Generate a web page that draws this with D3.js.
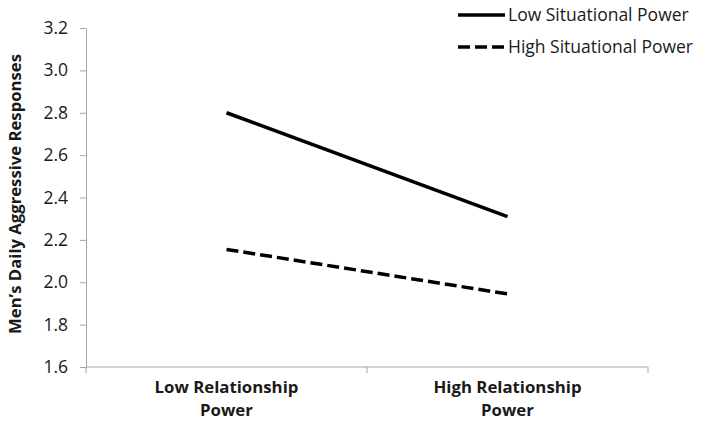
<!DOCTYPE html>
<html>
<head>
<meta charset="utf-8">
<script src="https://cdn.jsdelivr.net/npm/d3@7"></script>
<style>
  body { margin: 0; background: #fff; }
  text { font-family: "Open Sans", "Noto Sans", sans-serif; }
</style>
</head>
<body>
<script>
// categories and series values
var categories = ["Low Relationship|Power", "High Relationship|Power"];
var series_names = ["Low Situational Power", "High Situational Power"];
var low_situational = [2.80, 2.31];
var high_situational = [2.155, 1.945];
var y_ticks = [1.6, 1.8, 2.0, 2.2, 2.4, 2.6, 2.8, 3.0, 3.2];

var w = 704, h = 425;
var plot_left = 86, plot_right = 648, plot_top = 28, plot_bottom = 367;

var svg = d3.select("body").append("svg")
    .attr("width", w).attr("height", h);

var x = d3.scaleBand().domain(categories).range([plot_left, plot_right]);
var y = d3.scaleLinear().domain([1.6, 3.2]).range([plot_bottom, plot_top]);

// y axis
var yAxis = svg.append("g")
    .attr("transform", "translate(" + plot_left + ",0)")
    .call(d3.axisLeft(y).tickValues(y_ticks).tickFormat(d3.format(".1f")).tickSize(6).tickPadding(12).tickSizeOuter(0));
yAxis.select(".domain").attr("stroke", "#a6a6a6");
yAxis.selectAll(".tick line").attr("stroke", "#a6a6a6");
yAxis.selectAll(".tick text").attr("font-size", 17.5).attr("fill", "#1a1a1a")
    .attr("font-family", "'Open Sans', sans-serif");

// x axis, ticks on band edges
var xAxisG = svg.append("g").attr("transform", "translate(0," + plot_bottom + ")");
xAxisG.append("line").attr("x1", plot_left).attr("x2", plot_right).attr("stroke", "#a6a6a6");
var edges = categories.map(function(c) { return x(c); }).concat([plot_right]);
xAxisG.selectAll(".edge").data(edges).enter().append("line")
    .attr("x1", function(d) { return d; }).attr("x2", function(d) { return d; })
    .attr("y1", 0).attr("y2", 6).attr("stroke", "#a6a6a6");
var xl = xAxisG.selectAll(".lab").data(categories).enter().append("text")
    .attr("text-anchor", "middle").attr("font-size", 16.8).attr("font-weight", "bold")
    .attr("fill", "#1a1a1a")
    .attr("x", function(d) { return x(d) + x.bandwidth() / 2; });
xl.each(function(d) {
  var parts = d.split("|");
  d3.select(this).selectAll("tspan").data(parts).enter().append("tspan")
    .attr("x", x(d) + x.bandwidth() / 2)
    .attr("y", function(p, i) { return 26 + i * 23; })
    .text(function(p) { return p; });
});

// y axis title
svg.append("text")
    .attr("transform", "translate(21,194) rotate(-90)")
    .attr("text-anchor", "middle").attr("font-size", 16.7).attr("font-weight", "bold")
    .attr("fill", "#1a1a1a")
    .text("Men\u2019s Daily Aggressive Responses");

// lines
var line = d3.line()
    .x(function(d, i) { return x(categories[i]) + x.bandwidth() / 2; })
    .y(function(d) { return y(d); });

svg.append("path").datum(low_situational)
    .attr("d", line).attr("fill", "none").attr("stroke", "#000").attr("stroke-width", 3.5);
svg.append("path").datum(high_situational)
    .attr("d", line).attr("fill", "none").attr("stroke", "#000").attr("stroke-width", 3.5)
    .attr("stroke-dasharray", "12,5");

// legend
var legend = svg.append("g");
var dashes = [null, "12,5"];
series_names.forEach(function(name, i) {
  var ly = 15 + i * 32;
  legend.append("line").attr("x1", 458).attr("x2", 505).attr("y1", ly).attr("y2", ly)
    .attr("stroke", "#000").attr("stroke-width", 3.5)
    .attr("stroke-dasharray", dashes[i]);
  legend.append("text").attr("x", 508).attr("y", ly + 6).attr("font-size", 17.5)
    .attr("fill", "#1a1a1a").text(name);
});
</script>
</body>
</html>
